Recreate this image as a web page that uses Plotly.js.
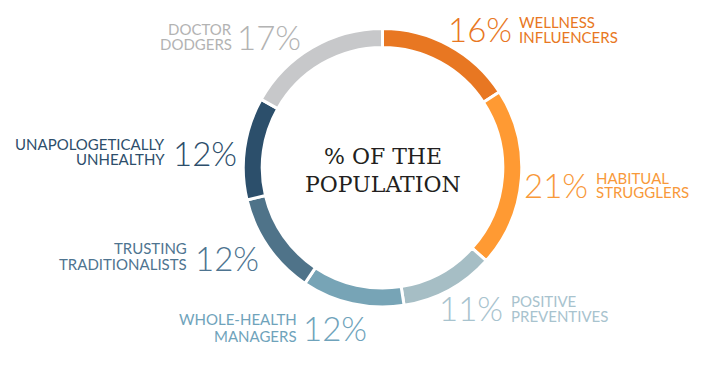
<!DOCTYPE html>
<html>
<head>
<meta charset="utf-8">
<script src="https://cdn.plot.ly/plotly-3.0.1.min.js"></script>
<style>html,body{margin:0;padding:0;background:#fff;}#chart{width:706px;height:369px;}</style>
</head>
<body>
<div id="chart"></div>
<script>
// ---- data ----
const segments = ['Wellness Influencers','Habitual Strugglers','Positive Preventives','Whole-Health Managers','Trusting Traditionalists','Unapologetically Unhealthy','Doctor Dodgers'];
const values = [16, 21, 11, 12, 12, 12, 17];
const nameLine1 = ['WELLNESS','HABITUAL','POSITIVE','WHOLE-HEALTH','TRUSTING','UNAPOLOGETICALLY','DOCTOR'];
const nameLine2 = ['INFLUENCERS','STRUGGLERS','PREVENTIVES','MANAGERS','TRADITIONALISTS','UNHEALTHY','DODGERS'];
const centerLines = ['% OF THE', 'POPULATION'];

// ---- styles ----
const ringColors = ['#E87722','#FF9A33','#A6BEC5','#77A4B6','#4F7389','#2C4F6B','#C7C8CA'];
const textColors = ['#E87722','#F8993A','#A8C3CE','#6FA3BB','#4E7490','#2D4E6B','#B3B3B3'];
const W = 706, H = 369;
const px = x => x / W, py = y => 1 - y / H;
// label layout (pixels): side = where the name sits relative to the percent
const labelPos = [
  {side:'right', pctEdge:511.7, nameEdge:519.3, y1:21.7,  y2:36.7,  yp:29.0},
  {side:'right', pctEdge:588.3, nameEdge:596.0, y1:178.3, y2:192.0, yp:185.0},
  {side:'right', pctEdge:503.0, nameEdge:511.0, y1:300.5, y2:316.2, yp:308.4},
  {side:'left',  pctEdge:303.3, nameEdge:296.7, y1:318.8, y2:335.8, yp:328.3},
  {side:'left',  pctEdge:195.0, nameEdge:186.7, y1:248.0, y2:264.3, yp:257.5},
  {side:'left',  pctEdge:173.3, nameEdge:165.0, y1:143.7, y2:159.3, yp:152.5},
  {side:'left',  pctEdge:237.3, nameEdge:231.7, y1:28.8,  y2:43.8,  yp:37.2}
];
const cx = 382.5, cy = 167.75, R = 139.25;

const annotations = [];
function ann(text, x, y, xanchor, font) {
  annotations.push({text, x:px(x), y:py(y), xref:'paper', yref:'paper',
    xanchor, yanchor:'middle', showarrow:false, borderpad:0, borderwidth:0, font});
}
values.forEach((v, i) => {
  const p = labelPos[i];
  const nameFont = {family:'Lato, sans-serif', size:15, color:textColors[i], weight:400};
  const pctFont = {family:'Lato, sans-serif', size:33, color:textColors[i], weight:300};
  const nameAnchor = p.side === 'right' ? 'left' : 'right';
  const pctAnchor = p.side === 'right' ? 'right' : 'left';
  ann(nameLine1[i], p.nameEdge, p.y1, nameAnchor, nameFont);
  ann(nameLine2[i], p.nameEdge, p.y2, nameAnchor, nameFont);
  ann(v + '%', p.pctEdge, p.yp, pctAnchor, pctFont);
});
const centerFont = {family:'"DejaVu Serif", serif', size:22, color:'#231F20'};
ann(centerLines[0], cx, 156.7, 'center', centerFont);
ann(centerLines[1], cx, 185.0, 'center', centerFont);

const trace = {
  type:'pie', labels:segments, values:values, sort:false, direction:'clockwise', rotation:0,
  hole:0.864, textinfo:'none', hoverinfo:'label+percent',
  marker:{colors:ringColors, line:{color:'#ffffff', width:3}},
  domain:{x:[px(cx - R), px(cx + R)], y:[py(cy + R), py(cy - R)]}
};
const layout = {
  width:W, height:H, margin:{l:0,r:0,t:0,b:0}, showlegend:false,
  paper_bgcolor:'#ffffff', plot_bgcolor:'#ffffff', annotations
};
Plotly.newPlot('chart', [trace], layout, {displayModeBar:false, staticPlot:true});
</script>
</body>
</html>
